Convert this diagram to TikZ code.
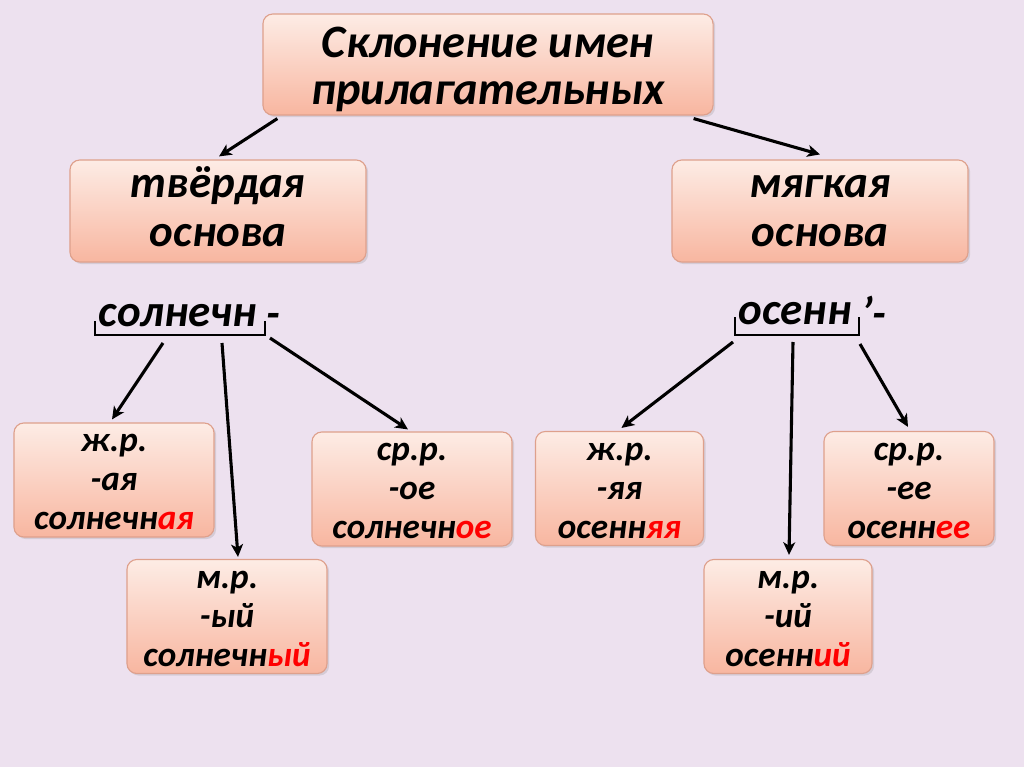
\documentclass[tikz,border=0pt]{standalone}
\usepackage{fontspec}
\setmainfont{Carlito}
\usepackage{xcolor}
\usepackage{tikz}
\usetikzlibrary{arrows.meta,positioning,calc,shadows}
\definecolor{PageBg}{RGB}{237,225,239}
\definecolor{BoxTop}{RGB}{253,236,229}
\definecolor{BoxBottom}{RGB}{248,182,160}
\definecolor{BoxEdge}{RGB}{222,160,140}
\definecolor{EndRed}{RGB}{255,0,0}

\begin{document}
\begin{tikzpicture}[
  x=0.025cm, y=-0.025cm,
  >={Stealth[length=9pt,width=8.5pt,inset=2.5pt]},
  card/.style={rectangle, draw=BoxEdge, line width=0.8pt, rounded corners=7pt, top color=BoxTop, bottom color=BoxBottom, align=center, inner sep=0pt, text depth=0pt, drop shadow={opacity=0.22, shadow xshift=1.5pt, shadow yshift=-1.5pt}},
  head/.style={card, font=\fontsize{33}{34}\selectfont\bfseries\itshape, text height=57.5pt, minimum width=11.25cm, minimum height=2.525cm},
  kind/.style={card, font=\fontsize{32}{35}\selectfont\bfseries\itshape, text height=51pt, minimum width=7.4cm, minimum height=2.55cm},
  form/.style={card, font=\fontsize{25}{27.7}\selectfont\bfseries\itshape, text height=70.4pt, minimum height=2.85cm},
  stem/.style={inner sep=0pt, font=\fontsize{32}{36}\selectfont\bfseries\itshape},
  brk/.style={line width=2.1pt, line cap=rect},
  arr/.style={->, line width=2.2pt},
]
\fill[PageBg] (0,0) rectangle (1024,767);
\useasboundingbox (0,0) rectangle (1024,767);
\node[head] (n0) at (488,64.5) {Склонение имен\\прилагательных};
\node[kind] (n1) at (218,211) {твёрдая\\основа};
\node[kind] (n2) at (820,211) {мягкая\\основа};
\node[stem] (s1) at (178,316) {солнечн};
\node[stem] (h1) at (273,321) {-};
\node[stem] (s2) at (795,314) {осенн};
\node[stem] (h2) at (874,312) {’-};
\draw[brk] ($(s1)+(-83,6)$) -- ($(s1)+(-83,19)$) -- ($(s1)+(87,19)$) -- ($(s1)+(87,6)$);
\draw[brk] ($(s2)+(-60,4)$) -- ($(s2)+(-60,21)$) -- ($(s2)+(64,21)$) -- ($(s2)+(64,4)$);
\node[form, minimum width=5cm] (b1) at (114,480) {ж.р.\\-ая\\солнечн\textcolor{EndRed}{ая}};
\node[form, minimum width=5cm] (b2) at (227,616.5) {м.р.\\-ый\\солнечн\textcolor{EndRed}{ый}};
\node[form, minimum width=5cm] (b3) at (412,489) {ср.р.\\-ое\\солнечн\textcolor{EndRed}{ое}};
\node[form, minimum width=4.2cm] (b4) at (619.5,488.5) {ж.р.\\-яя\\осенн\textcolor{EndRed}{яя}};
\node[form, minimum width=4.2cm] (b5) at (788,616.5) {м.р.\\-ий\\осенн\textcolor{EndRed}{ий}};
\node[form, minimum width=4.25cm] (b6) at (909,488.5) {ср.р.\\-ее\\осенн\textcolor{EndRed}{ее}};
\coordinate (c1) at (163,343);
\coordinate (c2) at (222,343);
\coordinate (c3) at (270,338);
\coordinate (c4) at (733,342);
\coordinate (c5) at (793,342);
\coordinate (c6) at (860,344);
\draw[arr] ($(n0.south west)+(15,3)$) -- ($(n1.north)+(1,-3)$);
\draw[arr] ($(n0.south east)+(-20,3)$) -- ($(n2.north)+(0,-5)$);
\draw[arr] (c1) -- ($(b1.north)+(-2,-3)$);
\draw[arr] (c2) -- ($(b2.north)+(11,-2)$);
\draw[arr] (c3) -- ($(b3.north)+(-4,-2)$);
\draw[arr] (c4) -- ($(b4.north)+(2,-3)$);
\draw[arr] (c5) -- ($(b5.north)+(1,-4)$);
\draw[arr] (c6) -- ($(b6.north)+(-1,-4)$);
\end{tikzpicture}
\end{document}
